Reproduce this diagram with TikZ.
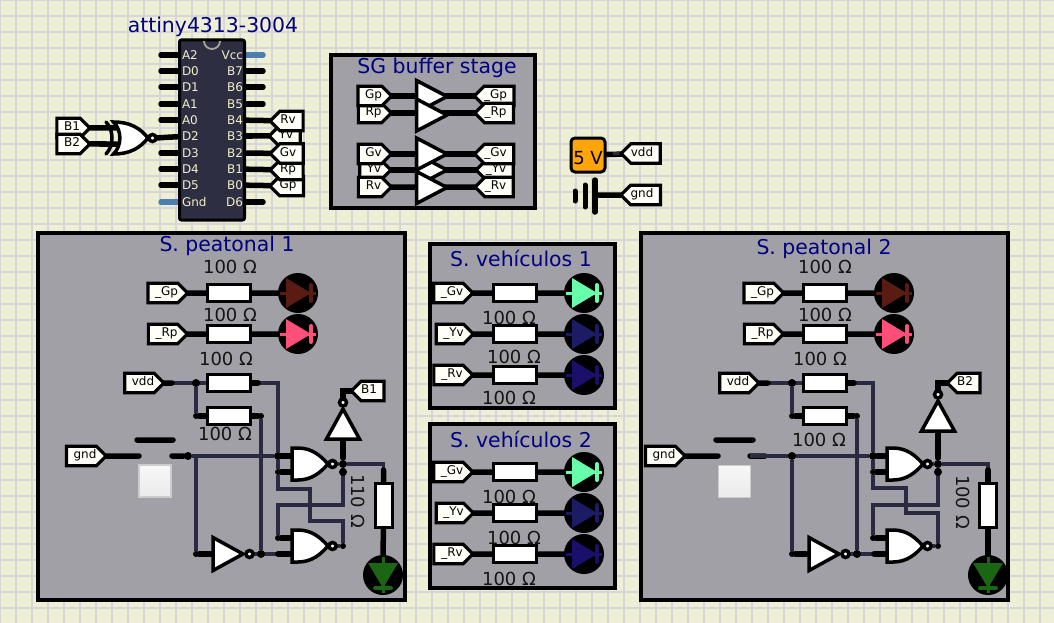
\documentclass[tikz,border=0pt]{standalone}
\usepackage{fontspec}
\setmainfont{DejaVu Sans}
\usetikzlibrary{shapes.symbols}
\definecolor{paper}{HTML}{EFEFD5}
\definecolor{gridgray}{HTML}{D6D6D6}
\definecolor{panelgray}{HTML}{A0A0A6}
\definecolor{chipdark}{HTML}{2E2E42}
\definecolor{chiptext}{HTML}{F2EFC4}
\definecolor{titleblue}{HTML}{000080}
\definecolor{wirenavy}{HTML}{2A2A42}
\definecolor{pinblue}{HTML}{4A7FB0}
\definecolor{tagwhite}{HTML}{FFFFF8}
\definecolor{voltorange}{HTML}{FFA50A}
\definecolor{ledbrown}{HTML}{5A1C12}
\definecolor{ledpink}{HTML}{FF4F78}
\definecolor{ledgreen}{HTML}{1A6612}
\definecolor{ledmint}{HTML}{66FFAA}
\definecolor{ledblue}{HTML}{1C1C66}
\definecolor{ledviolet}{HTML}{1A0F6B}
\pgfdeclarelayer{under}
\pgfdeclarelayer{wires}
\pgfsetlayers{under,wires,main}
\tikzset{
	txt/.style={font=\fontsize{#1}{#1}\selectfont},
	title/.style={txt=20.4, text=titleblue, inner sep=0},
	ohm/.style={txt=18, text=black!92, inner sep=0},
	panel/.style={draw, fill=panelgray, line width=4pt, rectangle},
	tag/.style={draw, fill=tagwhite, signal, line width=3.2pt, inner sep=0, outer sep=0, txt=12, text height=9pt, text depth=4pt, minimum height=19.5pt},
	tagR/.style={tag, signal to=east, signal from=nowhere, minimum width=#1, xshift=-4.5pt, execute at begin node={\hspace*{7pt}}},
	tagL/.style={tag, signal to=west, signal from=nowhere, minimum width=#1, xshift=4.5pt, execute at end node={\hspace*{7pt}}},
	pinl/.style={txt=12, text=chiptext, anchor=west, inner sep=3pt, outer sep=0},
	pinr/.style={txt=12, text=chiptext, anchor=east, inner sep=2pt, outer sep=0},
	res/.style={draw, fill=white, rectangle, line width=3pt, minimum width=43pt, minimum height=17pt, inner sep=0, outer sep=0},
	led/.style={circle, fill=black, minimum size=40pt, inner sep=0, path picture={
		\begin{scope}[shift={(path picture bounding box.center)}]
			\draw [#1, line width=3pt] (-18,0) -- (18,0);
			\draw [#1, line width=4pt, line cap=round] (13,-8) -- (13,8);
			\fill [#1] (-12,-15) -- (13,0) -- (-12,15) -- cycle;
		\end{scope}}},
	ledd/.style={circle, fill=black, minimum size=40pt, inner sep=0, path picture={
		\begin{scope}[shift={(path picture bounding box.center)}]
			\draw [#1, line width=3pt] (0,-18) -- (0,18);
			\draw [#1, line width=4pt, line cap=round] (-8,13) -- (8,13);
			\fill [#1] (-15,-12) -- (0,13) -- (15,-12) -- cycle;
		\end{scope}}},
	gatebox/.style={draw=black, fill=white, line width=3.5pt, line join=miter},
	pics/nandp/.style={code={
		\draw [gatebox] (-22,-16) -- (-16,-16) .. controls (-2,-16) and (7,-8) .. (14,0) .. controls (7,8) and (-2,16) .. (-16,16) -- (-22,16) -- cycle;
		\draw [gatebox] (18.5,0) circle (3.5);
		\coordinate (-in1) at (-21,-8);
		\coordinate (-in2) at (-21,8);
		\coordinate (-out) at (22,0);}},
	pics/notp/.style={code={
		\draw [gatebox] (-17,-16.5) -- (13,0) -- (-17,16.5) -- cycle;
		\draw [gatebox] (19.5,0) circle (3.5);
		\coordinate (-in) at (-15,0);
		\coordinate (-out) at (23,0);}},
	pics/bufp/.style={code={
		\draw [gatebox] (-16.5,-16) -- (14,0) -- (-16.5,16) -- cycle;}},
	pics/xnorp/.style={code={
		\draw [black, line width=3.5pt, line cap=round] (-24,-16) .. controls (-16,-8) and (-16,8) .. (-24,16);
		\draw [gatebox] (-16.5,-16) .. controls (-8,-8) and (-8,8) .. (-16.5,16) .. controls (0,16) and (10,10) .. (18,0) .. controls (10,-10) and (0,-16) .. (-16.5,-16) -- cycle;
		\draw [gatebox] (22.5,0) circle (3.5);
		\coordinate (-in1) at (-13,-10);
		\coordinate (-in2) at (-13,6);
		\coordinate (-out) at (25,0);}},
	dot/.style={circle, fill=black, minimum size=#1, inner sep=0},
	dot/.default=8pt,
	wire/.style={draw=wirenavy, line width=3.8pt},
	stub/.style={draw=black, line width=5.5pt, line cap=round},
	bluepin/.style={draw=pinblue, line width=5.5pt, line cap=round},
	button/.style={rectangle, draw=black!20, line width=1.5pt, top color=white!97!black, bottom color=black!8, minimum size=32pt, inner sep=0}
}
\begin{document}
\begin{tikzpicture}[x=1pt, y=-1pt]
	\useasboundingbox (0,0) rectangle (1054,623);
	\begin{pgfonlayer}{under}
		\fill [paper] (0,0) rectangle (1054,623);
		\draw [gridgray, line width=2.4pt, step=16pt] (0,0) grid (1054,623);
		\node [panel, minimum width=204pt, minimum height=153pt] (pSG) at (433,131.5) {};
		\node [panel, minimum width=367pt, minimum height=367pt] (pP1) at (221,416) {};
		\node [panel, minimum width=185pt, minimum height=164pt] (pV1) at (522.5,326) {};
		\node [panel, minimum width=185pt, minimum height=164pt] (pV2) at (522.5,505.5) {};
		\node [panel, minimum width=367pt, minimum height=367pt] (pP2) at (824.5,416) {};
	\end{pgfonlayer}

	% chip
	\node [title] (tChip) at (213,27) {attiny4313-3004};
	\node [draw=black, fill=chipdark, line width=3pt, rounded corners=2pt, minimum width=65pt, minimum height=180pt, inner sep=0] (chip) at (212,130) {};
	\draw [black!30!paper, line width=1.8pt] (204,41) arc [start angle=180, end angle=0, radius=8];
	\node [pinl] at (179,55) (A2) {A2};	\coordinate (pA2) at (161,55);
	\node [pinl] at (179,71) (D0) {D0};	\coordinate (pD0) at (161,71);
	\node [pinl] at (179,87) (D1) {D1};	\coordinate (pD1) at (161,87);
	\node [pinl] at (179,104) (A1) {A1};	\coordinate (pA1) at (161,104);
	\node [pinl] at (179,120) (A0) {A0};	\coordinate (pA0) at (161,120);
	\node [pinl] at (179,136) (D2) {D2};
	\node [pinl] at (179,153) (D3) {D3};	\coordinate (pD3) at (161,153);
	\node [pinl] at (179,169) (D4) {D4};	\coordinate (pD4) at (161,169);
	\node [pinl] at (179,185) (D5) {D5};	\coordinate (pD5) at (161,185);
	\node [pinl] at (179,202) (Gnd) {Gnd};	\coordinate (pGnd) at (161,202);
	\node [pinr] at (245,55) (Vcc) {Vcc};	\coordinate (pVcc) at (263,55);
	\node [pinr] at (245,71) (B7) {B7};	\coordinate (pB7) at (263,71);
	\node [pinr] at (245,87) (B6) {B6};	\coordinate (pB6) at (263,87);
	\node [pinr] at (245,104) (B5) {B5};	\coordinate (pB5) at (263,104);
	\node [pinr] at (245,120) (B4) {B4};
	\node [pinr] at (245,136) (B3) {B3};
	\node [pinr] at (245,153) (B2) {B2};
	\node [pinr] at (245,169) (B1) {B1};
	\node [pinr] at (245,185) (B0) {B0};
	\node [pinr] at (245,202) (D6) {D6};	\coordinate (pD6) at (263,202);

	\node [tagL=33pt] at (287,186) (tGp) {Gp};
	\node [tagL=33pt] at (287,170) (tRp) {Rp};
	\node [tagL=29pt] at (285,136) (tYv) {Yv};
	\node [tagL=33pt] at (287,153.5) (tGv) {Gv};
	\node [tagL=33pt] at (287,121) (tRv) {Rv};

	\node [tagR=33pt] at (73,128) (tB1) {B1};
	\node [tagR=33pt] at (73,144) (tB2) {B2};
	\pic (gXn) at (130,138) {xnorp};

	% buffer stage
	\node [title] (tSG) at (437,68) {SG buffer stage};
	\node [tagR=33pt] at (374.5,113) (iRp) {Rp};
	\node [tagR=33pt] at (374.5,96) (iGp) {Gp};
	\node [tagR=29pt] at (375,170) (iYv) {Yv};
	\node [tagR=33pt] at (374.5,154) (iGv) {Gv};
	\node [tagR=33pt] at (374.5,187) (iRv) {Rv};
	\node [tagL=37pt] at (494.5,96) (oGp) {\_Gp};
	\node [tagL=37pt] at (494.5,113) (oRp) {\_Rp};
	\node [tagL=33pt] at (495,170) (oYv) {\_Yv};
	\node [tagL=37pt] at (494.5,154) (oGv) {\_Gv};
	\node [tagL=37pt] at (494.5,187) (oRv) {\_Rv};
	\pic (bGp) at (433,96.5) {bufp};
	\pic (bRp) at (433,115) {bufp};
	\pic (bYv) at (433,170) {bufp};
	\pic (bGv) at (433,154) {bufp};
	\pic (bRv) at (433,187.5) {bufp};

	% supply
	\node [draw, fill=voltorange, line width=3pt, rounded corners=4pt, minimum size=34pt, inner sep=0, txt=18, text height=10pt, text depth=0pt] at (588,155) (v5) {\raisebox{-4pt}{5 V}};
	\node [tagL=38pt] at (641,153.5) (tVdd) {vdd};
	\node [tagL=38pt] at (641,195) (tGnd) {gnd};
	\coordinate (gBat) at (595,195);

	% S. peatonal 1
	\node [title] (tP1) at (227,246) {S. peatonal 1};
	\node [ohm] (l11) at (230,267) {100 Ω};
	\node [ohm] (l12) at (230,315) {100 Ω};
	\node [ohm] (l13) at (226,359) {100 Ω};
	\node [ohm] (l14) at (225,434) {100 Ω};
	\node [ohm, rotate=-90] (l15) at (358,501) {110 Ω};
	\node [tagR=39pt] at (167.5,293) (aGp) {\_Gp};
	\node [tagR=39pt] at (167.5,334) (aRp) {\_Rp};
	\node [tagR=39pt] at (144,383) (aVdd) {vdd};
	\node [tagR=39pt] at (86,456) (aGnd) {gnd};
	\node [tagL=32pt] at (368,391) (aB1) {B1};
	\node [res] at (229,293) (aR1) {};
	\node [res] at (229,334) (aR2) {};
	\node [res] at (229,383) (aR3) {};
	\node [res] at (229,416) (aR4) {};
	\node [res, minimum width=17pt, minimum height=44pt] at (383.5,505) (aR5) {};
	\node [led=ledbrown] at (298,293) (aD1) {};
	\node [led=ledpink] at (298,334) (aD2) {};
	\node [ledd=ledgreen] at (383,575) (aD3) {};
	\coordinate (aBarL) at (137,440);
	\coordinate (aBarR) at (173,440);
	\coordinate (aSwL) at (139,456);
	\coordinate (aSwR) at (172,456);
	\node [button] at (155,481) (aBtn) {};
	\pic (aN1) at (230,554) {notp};
	\pic [rotate=90] (aN2) at (343,422) {notp};
	\pic (aU1) at (314,464) {nandp};
	\pic (aU2) at (314,546) {nandp};
	\node [dot] at (196,383) (aJ1) {};
	\node [dot] at (188,456) (aJ2) {};
	\node [dot] at (278,456) (aJ3) {};
	\node [dot=6pt] at (278,472) (aJ4) {};
	\node [dot=6pt] at (278,538) (aJ5) {};
	\node [dot] at (261,554) (aJ6) {};
	\node [dot] at (343,464) (aJ7) {};
	\node [dot] at (343,472) (aJ8) {};
	\node [dot=6pt] at (343,546) (aJ9) {};
	\node [dot=6pt] at (261,416) (aJ10) {};
	\node [dot=6pt] at (196,416) (aJ11) {};
	\node [dot=6pt] at (196,554) (aJ12) {};
	\coordinate (aK1) at (196,456);
	\coordinate (aK2) at (278,383);
	\coordinate (aK3) at (310,489);
	\coordinate (aK4) at (310,521);
	\coordinate (aK5) at (343,505);
	\coordinate (aK6) at (278,505);

	% S. vehiculos 1
	\node [title] (tV1) at (521,258) {S. vehículos 1};
	\node [ohm] (l21) at (509,318) {100 Ω};
	\node [ohm] (l22) at (514,357) {100 Ω};
	\node [ohm] (l23) at (509,398) {100 Ω};
	\node [tagR=39pt] at (453,293) (bGv1) {\_Gv};
	\node [tagR=36pt] at (454.5,334) (bYv1) {\_Yv};
	\node [tagR=39pt] at (453,375) (bRv1) {\_Rv};
	\node [res] at (514.5,293) (bR1) {};
	\node [res] at (514.5,334) (bR2) {};
	\node [res] at (514.5,375) (bR3) {};
	\node [led=ledmint] at (584,293) (bD1) {};
	\node [led=ledblue] at (584,334) (bD2) {};
	\node [led=ledviolet] at (584,375) (bD3) {};

	% S. vehiculos 2
	\node [title] (tV2) at (521,439) {S. vehículos 2};
	\node [ohm] (l31) at (509,497) {100 Ω};
	\node [ohm] (l32) at (514,538) {100 Ω};
	\node [ohm] (l33) at (509,579) {100 Ω};
	\node [tagR=39pt] at (453,472) (cGv1) {\_Gv};
	\node [tagR=36pt] at (454.5,513) (cYv1) {\_Yv};
	\node [tagR=39pt] at (453,554) (cRv1) {\_Rv};
	\node [res] at (514.5,472) (cR1) {};
	\node [res] at (514.5,513) (cR2) {};
	\node [res] at (514.5,554) (cR3) {};
	\node [led=ledmint] at (584,472) (cD1) {};
	\node [led=ledblue] at (584,513) (cD2) {};
	\node [led=ledviolet] at (584,554) (cD3) {};

	% S. peatonal 2
	\node [title] (tP2) at (824,249) {S. peatonal 2};
	\node [ohm] (l41) at (825,267) {100 Ω};
	\node [ohm] (l42) at (825,315) {100 Ω};
	\node [ohm] (l43) at (820,359) {100 Ω};
	\node [ohm] (l44) at (819,440) {100 Ω};
	\node [ohm, rotate=-90] (l45) at (963,502) {100 Ω};
	\node [tagR=39pt] at (763.5,293) (dGp) {\_Gp};
	\node [tagR=39pt] at (763.5,334) (dRp) {\_Rp};
	\node [tagR=39pt] at (739,383) (dVdd) {vdd};
	\node [tagR=39pt] at (665,456) (dGnd) {gnd};
	\node [tagL=32pt] at (964,383) (dB2) {B2};
	\node [res] at (825,293) (dR1) {};
	\node [res] at (825,334) (dR2) {};
	\node [res] at (825,383) (dR3) {};
	\node [res] at (825,416) (dR4) {};
	\node [res, minimum width=17pt, minimum height=44pt] at (988,505) (dR5) {};
	\node [led=ledbrown] at (894,293) (dD1) {};
	\node [led=ledpink] at (894,334) (dD2) {};
	\node [ledd=ledgreen] at (988,575) (dD3) {};
	\coordinate (dBarL) at (716,440);
	\coordinate (dBarR) at (753,440);
	\coordinate (dSwL) at (718,456);
	\coordinate (dSwR) at (750,456);
	\node [button] at (734.5,481.5) (dBtn) {};
	\pic (dN1) at (826,554) {notp};
	\pic [rotate=90] (dN2) at (938,414) {notp};
	\pic (dU1) at (909,464) {nandp};
	\pic (dU2) at (909,546) {nandp};
	\node [dot] at (792,383) (dJ1) {};
	\node [dot] at (792,456) (dJ2) {};
	\node [dot] at (873,456) (dJ3) {};
	\node [dot=6pt] at (873,472) (dJ4) {};
	\node [dot=6pt] at (873,538) (dJ5) {};
	\node [dot] at (857,554) (dJ6) {};
	\node [dot] at (938,464) (dJ7) {};
	\node [dot] at (938,472) (dJ8) {};
	\node [dot=6pt] at (938,546) (dJ9) {};
	\node [dot=6pt] at (857,416) (dJ10) {};
	\node [dot=6pt] at (792,416) (dJ11) {};
	\node [dot=6pt] at (792,554) (dJ12) {};
	\coordinate (dK2) at (873,383);
	\coordinate (dK3) at (906,488);
	\coordinate (dK4) at (906,513);
	\coordinate (dK5) at (938,505);
	\coordinate (dK6) at (873,505);

	\begin{pgfonlayer}{wires}
		% chip pins
		\draw [stub] (A2) edge (pA2) (D0) edge (pD0) (D1) edge (pD1) (A1) edge (pA1) (A0) edge (pA0) (D3) edge (pD3) (D4) edge (pD4) (D5) edge (pD5);
		\draw [stub] (B7) edge (pB7) (B6) edge (pB6) (B5) edge (pB5) (D6) edge (pD6);
		\draw [bluepin] (Gnd) edge (pGnd) (Vcc) edge (pVcc);
		\draw [stub] (B4) edge (tRv) (B3) edge (tYv) (B2) edge (tGv) (B1) edge (tRp) (B0) edge (tGp);
		\draw [stub] (tB1) -- (tB1 -| gXn-in1) (tB2) -- (tB2 -| gXn-in2);
		\draw [stub] (D2) -- (gXn-out);
		% buffers
		\draw [stub] (iGp) edge (oGp) (iRp) edge (oRp) (iGv) edge (oGv) (iYv) edge (oYv) (iRv) edge (oRv);
		% supply
		\draw [stub] (v5) -- (tVdd);
		\draw [wirenavy, line width=3pt] (613,153.5) -- (tVdd);
		\draw [stub] (gBat) -- (tGnd);
		\draw [line width=5.5pt, line cap=round] (595,180) -- (595,212);
		\draw [line width=5pt, line cap=round] (585,185) -- (585,207);
		\draw [line width=5pt, line cap=round] (575,191) -- (575,201);

		% S. peatonal 1
		\draw [stub] (aGp) -- (aR1) -- (aD1) (aRp) -- (aR2) -- (aD2);
		\draw [wire] (aVdd) -- (aR3) (aR3) -- (aK2) -- (aJ3) (aJ1) -- (aJ11) -- (aR4) (aR4) -- (aJ10) -- (aJ6);
		\draw [stub] (aVdd) -- (172,383);
		\draw [stub] (aR3) -- (258,383) (aR4) -- (aJ10) (aJ11) -- (aR4);
		\draw [stub] (aGnd) -- (aSwL) (aSwR) -- (aJ2) (aBarL) -- (aBarR);
		\draw [wire] (aJ2) -- (aJ3) (aK1) -- (aJ12);
		\draw [stub] (aJ12) -- (aN1-in);
		\draw [wire] (aN1-out) -- (aU2-in2);
		\draw [stub] (aJ3) -- (aU1-in1) (aJ4) -- (aU1-in2) (aJ5) -- (aU2-in1) (278,554) -- (aU2-in2);
		\draw [wire] (aJ3) -- (aJ4) -- (aK3 -| aJ3) -- (aK3) -- (aK4) -- (aK4 -| aJ9) -- (aJ9) -- (aU2-out);
		\draw [wire] (aJ7) -- (aK5) -- (aK6) -- (aJ5);
		\draw [wire] (aU1-out) -- (aJ7) -- (aJ7 -| aR5) -- (aR5);
		\draw [stub] (aN2-in) -- (343,458);
		\draw [stub] (aN2-out) |- (aB1);
		\draw [stub] (aR5) -- (383.5,470) (aR5) -- (aD3);

		% S. vehiculos
		\draw [stub] (bGv1) -- (bR1) -- (bD1) (bYv1) -- (bR2) -- (bD2) (bRv1) -- (bR3) -- (bD3);
		\draw [stub] (cGv1) -- (cR1) -- (cD1) (cYv1) -- (cR2) -- (cD2) (cRv1) -- (cR3) -- (cD3);

		% S. peatonal 2
		\draw [stub] (dGp) -- (dR1) -- (dD1) (dRp) -- (dR2) -- (dD2);
		\draw [wire] (dVdd) -- (dR3) (dR3) -- (dK2) -- (dJ3) (dJ1) -- (dJ11) -- (dR4) (dR4) -- (dJ10) -- (dJ6);
		\draw [stub] (dVdd) -- (768,383);
		\draw [stub] (dR3) -- (854,383) (dR4) -- (dJ10) (dJ11) -- (dR4);
		\draw [stub] (dGnd) -- (dSwL) (dSwR) -- (765,456) (dBarL) -- (dBarR);
		\draw [wire] (dSwR) -- (dJ3) (dJ2) -- (dJ12);
		\draw [stub] (dJ12) -- (dN1-in);
		\draw [wire] (dN1-out) -- (dU2-in2);
		\draw [stub] (dJ3) -- (dU1-in1) (dJ4) -- (dU1-in2) (dJ5) -- (dU2-in1) (874,554) -- (dU2-in2);
		\draw [wire] (dJ3) -- (dJ4) -- (dK3 -| dJ3) -- (dK3) -- (dK4) -- (dK4 -| dJ9) -- (dJ9) -- (dU2-out);
		\draw [wire] (dJ7) -- (dK5) -- (dK6) -- (dJ5);
		\draw [wire] (dU1-out) -- (dJ7) -- (dJ7 -| dR5) -- (dR5);
		\draw [stub] (dN2-in) -- (938,458);
		\draw [stub] (dN2-out) |- (dB2);
		\draw [stub] (dR5) -- (988,470) (dR5) -- (dD3);
	\end{pgfonlayer}
\end{tikzpicture}
\end{document}
